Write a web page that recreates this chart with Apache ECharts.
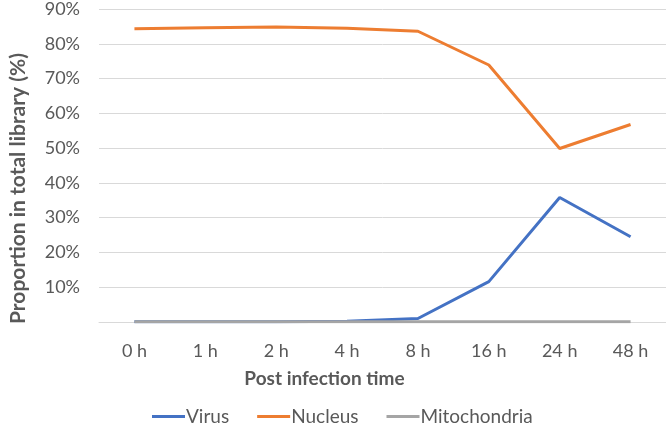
<!DOCTYPE html>
<html><head><meta charset="utf-8">
<script src="https://cdn.jsdelivr.net/npm/echarts@6/dist/echarts.min.js"></script>
<style>html,body{margin:0;padding:0;background:#fff}#c{width:666px;height:425px}</style>
</head><body><div id="c"></div>
<script>
const categories = ['0 h','1 h','2 h','4 h','8 h','16 h','24 h','48 h'];
const virus = [0.05, 0.05, 0.05, 0.2, 1.0, 11.6, 35.8, 24.5];
const nucleus = [84.3, 84.6, 84.8, 84.5, 83.6, 73.9, 49.9, 56.8];
const mitochondria = [0.1, 0.1, 0.1, 0.1, 0.1, 0.1, 0.1, 0.1];
const yTicks = [0,10,20,30,40,50,60,70,80,90];

const font = 'Lato, "Open Sans", sans-serif';
const chart = echarts.init(document.getElementById('c'));
chart.setOption({
  animation: false,
  textStyle: {fontFamily: font},
  grid: {left: 81, right: 0, top: 9, bottom: 103, containLabel: false},
  xAxis: {
    type: 'category', data: categories, boundaryGap: true,
    name: 'Post infection time', nameLocation: 'middle', nameGap: 47,
    nameTextStyle: {fontFamily: font, fontWeight: 'bold', fontSize: 19, color: '#595959', padding: [0, 116, 0, 0]},
    axisLine: {lineStyle: {color: '#D9D9D9', width: 1}},
    axisTick: {show: false},
    axisLabel: {fontFamily: font, fontSize: 18, color: '#595959', margin: 20}
  },
  yAxis: {
    type: 'value', min: yTicks[0], max: yTicks[yTicks.length-1], interval: 10,
    name: 'Proportion in total library (%)', nameLocation: 'middle', nameGap: 70,
    nameTextStyle: {fontFamily: font, fontWeight: 'bold', fontSize: 21, color: '#595959', padding: [0, 46, 0, 0]},
    axisLine: {show: false}, axisTick: {show: false},
    axisLabel: {fontFamily: font, fontSize: 18, color: '#595959', margin: 19,
      formatter: v => v === 0 ? '' : v + '%'},
    splitLine: {lineStyle: {color: '#D9D9D9', width: 1}}
  },
  legend: {
    top: 407, left: 152, padding: 0, icon: 'rect', itemWidth: 33, itemHeight: 3, itemGap: 28,
    textStyle: {fontFamily: font, fontSize: 19, color: '#595959', padding: [0,0,0,-4]},
    data: ['Virus','Nucleus','Mitochondria']
  },
  series: [
    {name: 'Virus', type: 'line', data: virus, symbol: 'none', lineStyle: {color: '#4472C4', width: 3}, itemStyle: {color: '#4472C4'}},
    {name: 'Nucleus', type: 'line', data: nucleus, symbol: 'none', lineStyle: {color: '#ED7D31', width: 3}, itemStyle: {color: '#ED7D31'}},
    {name: 'Mitochondria', type: 'line', data: mitochondria, symbol: 'none', lineStyle: {color: '#A5A5A5', width: 3}, itemStyle: {color: '#A5A5A5'}}
  ]
});
</script></body></html>
